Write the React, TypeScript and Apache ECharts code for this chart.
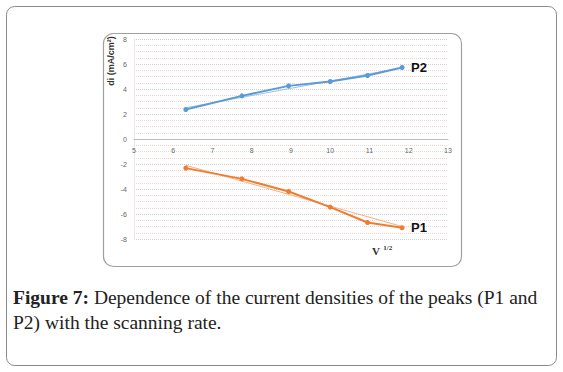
import React, { useEffect, useRef } from "react";
import * as echarts from "echarts";

const xValues = [6.32, 7.75, 8.94, 10.0, 10.95, 11.83];
const p2Values = [2.36, 3.45, 4.25, 4.6, 5.08, 5.72];
const p1Values = [-2.33, -3.19, -4.2, -5.45, -6.68, -7.1];
const p2TrendX = [6.32, 11.83];
const p2TrendY = [2.5, 5.7];
const p1TrendX = [6.32, 11.83];
const p1TrendY = [-2.1, -7.0];
const xTicks = { min: 5, max: 13, interval: 1 };
const yTicks = { min: -8, max: 8, interval: 2 };

const BLUE = "#5B9BD5";
const ORANGE = "#ED7D31";

export default function App() {
  const ref = useRef<HTMLDivElement>(null);
  useEffect(() => {
    if (!ref.current) return;
    const chart = echarts.init(ref.current, undefined, { renderer: "svg" });
    const pair = (xs: number[], ys: number[]) => xs.map((x, i) => [x, ys[i]]);
    chart.setOption({
      animation: false,
      backgroundColor: "#ffffff",
      grid: { left: 134, top: 39, width: 314, height: 200 },
      xAxis: {
        type: "value",
        min: xTicks.min,
        max: xTicks.max,
        interval: xTicks.interval,
        position: "bottom",
        offset: -100,
        axisLine: { onZero: false, lineStyle: { color: "#bdbdbd", width: 1 } },
        axisTick: { show: false },
        axisLabel: { color: "#666", fontSize: 7, margin: 8, fontFamily: "Liberation Sans" },
        splitLine: { show: false },
      },
      yAxis: {
        type: "value",
        min: yTicks.min,
        max: yTicks.max,
        interval: yTicks.interval,
        axisLine: { show: true, onZero: false, lineStyle: { color: "#e6e6e6", type: "dotted" } },
        axisTick: { show: false },
        axisLabel: { color: "#666", fontSize: 7, margin: 7, fontFamily: "Liberation Sans" },
        splitLine: { show: true, lineStyle: { color: "#d0d0d0", type: "dotted", width: 1 } },
        minorTick: { show: false, splitNumber: 4 },
        minorSplitLine: { show: true, lineStyle: { color: "#ecd6d6", type: "dotted", width: 1 } },
      },
      series: [
        {
          type: "line",
          data: pair(p2TrendX, p2TrendY),
          symbol: "none",
          lineStyle: { color: "#9cc3e6", width: 1 },
          z: 1,
        },
        {
          type: "line",
          data: pair(p1TrendX, p1TrendY),
          symbol: "none",
          lineStyle: { color: "#f4b183", width: 1 },
          z: 1,
        },
        {
          type: "line",
          data: pair(xValues, p2Values),
          symbol: "circle",
          symbolSize: 5,
          itemStyle: { color: BLUE },
          lineStyle: { color: BLUE, width: 2 },
          endLabel: {
            show: true,
            formatter: "P2",
            color: "#111",
            fontWeight: "bold",
            fontSize: 13,
            fontFamily: "Liberation Sans",
            distance: 9,
          },
          z: 3,
        },
        {
          type: "line",
          data: pair(xValues, p1Values),
          symbol: "circle",
          symbolSize: 5,
          itemStyle: { color: ORANGE },
          lineStyle: { color: ORANGE, width: 2 },
          endLabel: {
            show: true,
            formatter: "P1",
            color: "#111",
            fontWeight: "bold",
            fontSize: 13,
            fontFamily: "Liberation Sans",
            distance: 9,
          },
          z: 3,
        },
      ],
      graphic: [
        {
          type: "rect",
          shape: { x: 6.5, y: 6.5, width: 550, height: 359, r: 8 },
          style: { fill: "none", stroke: "#8a8a8a", lineWidth: 1 },
          silent: true,
          z: -10,
        },
        {
          type: "rect",
          shape: { x: 103.5, y: 33.5, width: 358, height: 233, r: 10 },
          style: { fill: "none", stroke: "#a0a0a0", lineWidth: 1.2 },
          silent: true,
          z: -10,
        },
        {
          type: "text",
          x: 111,
          y: 61,
          rotation: Math.PI / 2,
          style: {
            text: "di (mA/cm²)",
            fontSize: 9,
            fontWeight: "bold",
            fill: "#333",
            fontFamily: "Liberation Sans",
            align: "center",
            verticalAlign: "middle",
          },
        },
        {
          type: "text",
          x: 372,
          y: 251,
          style: {
            text: "{v|V} {s|1/2}",
            rich: {
              v: { fontSize: 11, fontWeight: "bold", fontFamily: "Liberation Serif", fill: "#333" },
              s: { fontSize: 7, fontWeight: "bold", fontFamily: "Liberation Serif", fill: "#333", verticalAlign: "top", padding: [0, 0, 6, 0] },
            },
            verticalAlign: "middle",
          },
        },
        {
          type: "text",
          x: 13,
          y: 297,
          style: {
            text: "{b|Figure 7:} Dependence of the current densities of the peaks (P1 and",
            fontSize: 19.5,
            fontFamily: "Liberation Serif",
            fill: "#222",
            verticalAlign: "middle",
            rich: {
              b: { fontSize: 19.5, fontFamily: "Liberation Serif", fontWeight: "bold", fill: "#222" },
            },
          },
        },
        {
          type: "text",
          x: 13,
          y: 322,
          style: {
            text: "P2) with the scanning rate.",
            fontSize: 19.5,
            fontFamily: "Liberation Serif",
            fill: "#222",
            verticalAlign: "middle",
          },
        },
      ],
    });
    return () => chart.dispose();
  }, []);
  return (
    <div
      ref={ref}
      style={{ position: "fixed", left: 0, top: 0, width: 563, height: 372 }}
    />
  );
}
